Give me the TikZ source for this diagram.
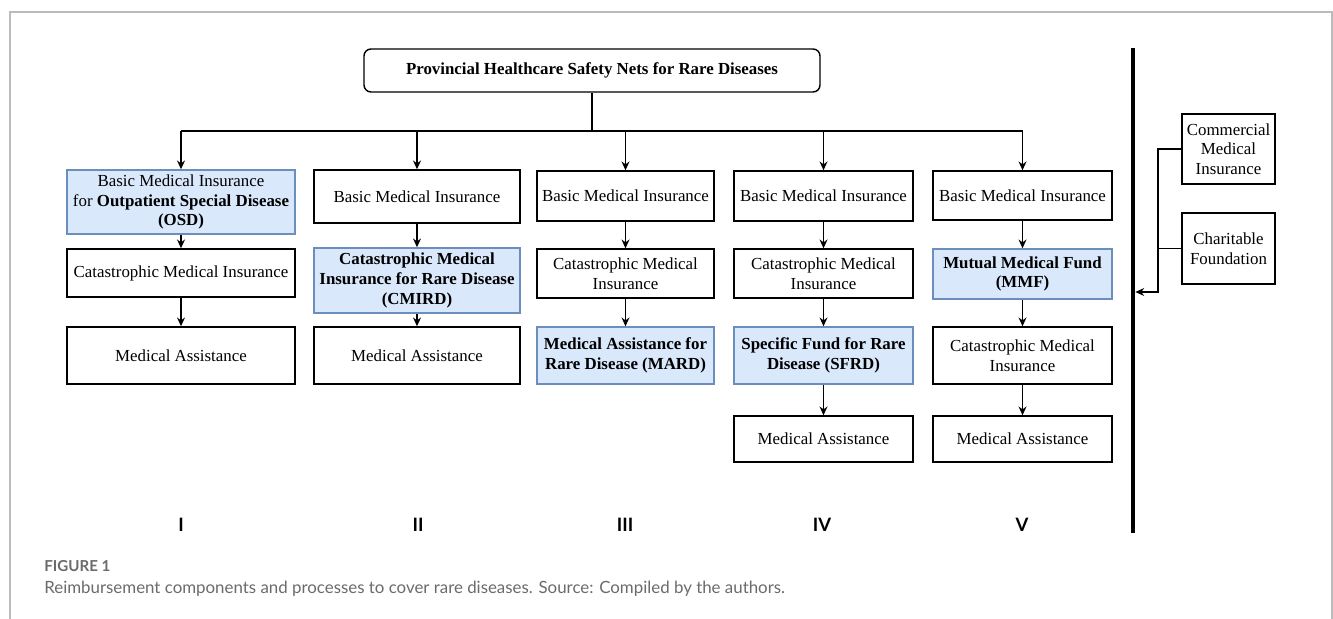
\documentclass[tikz,border=0pt]{standalone}
\usepackage{fontspec}
\setmainfont{Liberation Serif}
\newfontfamily\capfont{Lato}
\usepackage{xcolor}
\usetikzlibrary{arrows.meta,positioning,calc}

\definecolor{hifill}{HTML}{DAE8FC}
\definecolor{hiline}{HTML}{6C8EBF}
\definecolor{framegray}{HTML}{BBBBBB}
\definecolor{capgray}{HTML}{6B6B6B}
\newcommand{\boxfont}{\fontsize{9.6}{11.2}\selectfont}

\begin{document}
\begin{tikzpicture}[x=0.2mm, y=-0.2mm,
    every node/.style={font=\boxfont},
    box/.style={draw, line width=0.8pt, align=center, inner sep=1pt, fill=white},
    hibox/.style={box, draw=hiline, fill=hifill},
    colI/.style={minimum width=45.6mm},
    colII/.style={minimum width=41.2mm},
    colIII/.style={minimum width=35.4mm},
    colIV/.style={minimum width=35.8mm},
    colV/.style={minimum width=35.8mm},
    rel/.style={-{Stealth[length=5pt,width=4.5pt]}, line width=0.75pt},
    link/.style={line width=0.75pt},
    numeral/.style={font=\capfont\bfseries\fontsize{10.5}{12}\selectfont},
  ]
  \useasboundingbox (0,0) rectangle (1333,619);

  % outer frame of the figure
  \draw[framegray, line width=0.8pt] (10,619) -- (10,12) -- (1332,12) -- (1332,619);

  % top node
  \node[box, rounded corners=4pt, minimum width=91.2mm, minimum height=8.6mm] (nets) at (592,70.5)
    {\textbf{Provincial Healthcare Safety Nets for Rare Diseases}};
  \coordinate (bus) at (592,131);

  % Column I
  \node[hibox, colI, minimum height=12.8mm] (osd) at (181,202)
    {Basic Medical Insurance\\for \textbf{Outpatient Special Disease}\\\textbf{(OSD)}};
  \node[box, colI, minimum height=9.6mm] (cmiI) at (181,273) {Catastrophic Medical Insurance};
  \node[box, colI, minimum height=11.4mm] (maI) at (181,355.5) {Medical Assistance};

  % Column II
  \node[box, colII, minimum height=10.6mm] (bmiII) at (417,196.5) {Basic Medical Insurance};
  \node[hibox, colII, minimum height=13mm] (cmird) at (417,280.5)
    {\textbf{Catastrophic Medical}\\\textbf{Insurance for Rare Disease}\\\textbf{(CMIRD)}};
  \node[box, colII, minimum height=11.4mm] (maII) at (417,355.5) {Medical Assistance};

  % Column III
  \node[box, colIII, minimum height=10mm] (bmiIII) at (625.5,196) {Basic Medical Insurance};
  \node[box, colIII, minimum height=9.8mm] (cmiIII) at (625.5,273.5) {Catastrophic Medical\\Insurance};
  \node[hibox, colIII, minimum height=11.4mm] (mard) at (625.5,355.5)
    {\textbf{Medical Assistance for}\\\textbf{Rare Disease (MARD)}};

  % Column IV
  \node[box, colIV, minimum height=10mm] (bmiIV) at (823.5,196) {Basic Medical Insurance};
  \node[box, colIV, minimum height=9.8mm] (cmiIV) at (823.5,273.5) {Catastrophic Medical\\Insurance};
  \node[hibox, colIV, minimum height=11.4mm] (sfrd) at (823.5,355.5)
    {\textbf{Specific Fund for Rare}\\\textbf{Disease (SFRD)}};
  \node[box, colIV, minimum height=9.2mm] (maIV) at (823.5,439) {Medical Assistance};

  % Column V
  \node[box, colV, minimum height=9.8mm] (bmiV) at (1022.5,195.5) {Basic Medical Insurance};
  \node[hibox, colV, minimum height=10mm] (mmf) at (1022.5,274)
    {\textbf{Mutual Medical Fund}\\\textbf{(MMF)}};
  \node[box, colV, minimum height=11.4mm] (cmiV) at (1022.5,355.5) {Catastrophic Medical\\Insurance};
  \node[box, colV, minimum height=9.2mm] (maV) at (1022.5,439) {Medical Assistance};

  % branching from the top node
  \draw[link] (nets.south) -- (bus);
  \draw[link] (bus -| osd.north) -- (bus -| bmiV.north);
  \foreach \col in {osd, bmiII, bmiIII, bmiIV, bmiV}
    \draw[rel] (bus -| \col.north) -- (\col.north);

  % flows inside the columns
  \draw[rel] (osd.south) -- (cmiI.north);
  \draw[rel] (cmiI.south) -- (maI.north);
  \draw[rel] (bmiII.south) -- (cmird.north);
  \draw[rel] (cmird.south) -- (maII.north);
  \draw[rel] (bmiIII.south) -- (cmiIII.north);
  \draw[rel] (cmiIII.south) -- (mard.north);
  \draw[rel] (bmiIV.south) -- (cmiIV.north);
  \draw[rel] (cmiIV.south) -- (sfrd.north);
  \draw[rel] (sfrd.south) -- (maIV.north);
  \draw[rel] (bmiV.south) -- (mmf.north);
  \draw[rel] (mmf.south) -- (cmiV.north);
  \draw[rel] (cmiV.south) -- (maV.north);

  % separator and supplementary sources
  \node[fill=black, inner sep=0pt, minimum width=0.8mm, minimum height=97mm] (rail) at (1133,290.5) {};
  \node[box, minimum width=18.6mm, minimum height=14mm] (commercial) at (1228.5,149)
    {Commercial\\Medical\\Insurance};
  \node[box, minimum width=18.6mm, minimum height=14.2mm] (charity) at (1228.5,248.5)
    {Charitable\\Foundation};
  \coordinate (fork) at (1158,292);
  \draw[rel] (commercial.west) -| (fork) -- (fork -| rail.east);
  \draw[link] (charity.west) -- (charity.west -| fork);

  % column numerals
  \node[numeral] (numI) at (181,525) {I};
  \node[numeral] (numII) at (418,525) {II};
  \node[numeral] (numIII) at (625,525) {III};
  \node[numeral] (numIV) at (822,525) {IV};
  \node[numeral] (numV) at (1022,525) {V};

  % caption
  \node[anchor=base west, inner sep=0pt, text=capgray, font=\capfont\bfseries\fontsize{8.6}{10}\selectfont] (figlabel) at (44,571) {FIGURE 1};
  \node[anchor=base west, inner sep=0pt, text=capgray, font=\capfont\fontsize{9.6}{11}\selectfont] (figcaption) at (44,593)
    {Reimbursement components and processes to cover rare diseases. Source: Compiled by the authors.};
\end{tikzpicture}
\end{document}
